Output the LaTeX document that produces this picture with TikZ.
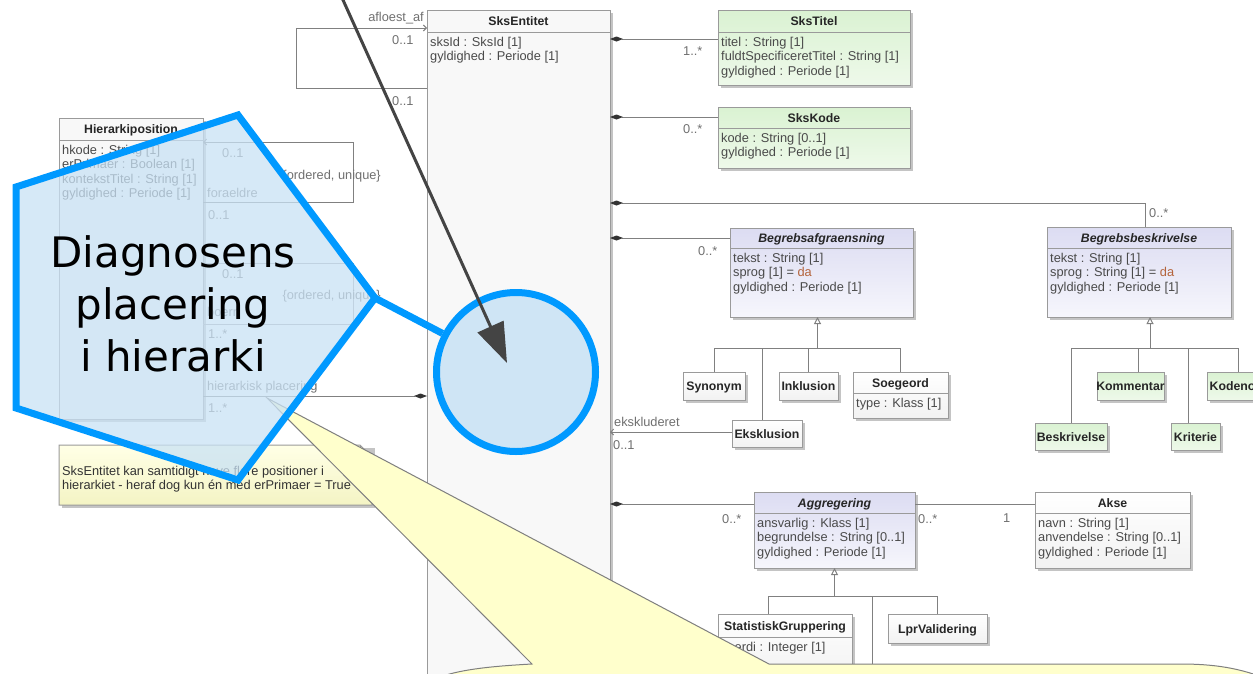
\documentclass[tikz,border=0pt]{standalone}
\usepackage{fontspec}
\setmainfont{Liberation Sans}
\newfontfamily\bigfont{DejaVu Sans}
\usetikzlibrary{arrows.meta,calc}
\definecolor{bluec}{HTML}{0099FF}
\definecolor{pentc}{HTML}{C9E2F5}
\definecolor{circc}{HTML}{CFE5F5}
\definecolor{boxc}{HTML}{9A9A9A}
\definecolor{shadc}{HTML}{C4C4C4}
\definecolor{connc}{HTML}{808080}
\definecolor{attrc}{HTML}{4A4A4A}
\definecolor{multc}{HTML}{707070}
\definecolor{dacol}{HTML}{B4643C}
\definecolor{entc}{HTML}{F8F8F8}
\definecolor{grtop}{HTML}{DAF2D2}
\definecolor{grbot}{HTML}{EEF9EA}
\definecolor{lvtop}{HTML}{DCDCF2}
\definecolor{lvbot}{HTML}{F6F6FC}
\definecolor{whtop}{HTML}{FFFFFF}
\definecolor{whbot}{HTML}{F2F2F2}
\definecolor{ntop}{HTML}{FFFFE6}
\definecolor{nbot}{HTML}{F4F4C4}
\definecolor{bubc}{HTML}{FFFFCC}
\definecolor{bubline}{HTML}{7F7F7F}
\definecolor{darkc}{HTML}{444444}
\newcommand\umlf{\fontsize{12.8pt}{14.5pt}\selectfont}
\newcommand\umltf{\fontsize{12.3pt}{14pt}\selectfont\bfseries}
\tikzset{
  clsbox/.style={draw=boxc, line width=1pt, anchor=north west, inner sep=0pt, outer sep=0pt},
  clstitle/.style={anchor=base, inner sep=0pt, font=\umltf, text=black!85},
  clsattr/.style={anchor=north west, inner sep=0pt, align=left, font=\umlf, text=attrc},
  clsline/.style={draw=boxc, line width=0.8pt},
  shadowc/.style={fill=shadc},
  conn/.style={draw=connc, line width=1pt},
  comp/.style={conn, {Diamond[length=13pt,width=5pt,color=black!80]}-},
  compend/.style={conn, -{Diamond[length=13pt,width=5pt,color=black!80]}},
  barbend/.style={conn, -{Straight Barb[length=3pt,width=6pt]}},
  barbstart/.style={conn, {Straight Barb[length=3pt,width=6pt]}-},
  gen/.style={conn, -{Triangle[length=7pt,width=7pt,fill=white]}},
  mult/.style={font=\umlf, text=multc, inner sep=0pt},
  greenf/.style={top color=grtop, bottom color=grbot},
  lavf/.style={top color=lvtop, bottom color=lvbot},
  whitef/.style={top color=whtop, bottom color=whbot},
  notef/.style={top color=ntop, bottom color=nbot, draw=boxc, line width=1pt},
  bubble/.style={fill=bubc, draw=bubline, line width=1pt, line join=miter},
  pentagon/.style={draw=bluec, line width=7pt, fill=pentc, fill opacity=0.75, line join=miter},
  blueline/.style={draw=bluec, line width=7pt},
  bigtext/.style={font=\bigfont\fontsize{42pt}{52pt}\selectfont, align=center, text=black, inner sep=0pt},
  darrow/.style={draw=darkc, line width=3pt, -{Triangle[length=40pt,width=28pt,color=darkc]}}
}
% #1 name #2 x #3 y #4 w #5 h #6 header height #7 fill style #8 title #9 attributes
\newcommand\umlclass[9]{%
  \fill[shadowc] (#2+3,#3+3) rectangle (#2+#4+3,#3+#5+3);
  \node[clsbox,#7,minimum width=#4pt,minimum height=#5pt] (#1) at (#2,#3) {};
  \ifdim #6pt>0pt
    \node[clstitle] (#1t) at (#2+#4/2,#3+#6/2+4.5) {#8};
    \draw[clsline] (#2,#3+#6) -- (#2+#4,#3+#6);
    \node[clsattr] (#1a) at (#2+3,#3+#6+2) {#9};
  \else
    \node[clstitle] (#1t) at (#2+#4/2,#3+#5/2+4.5) {#8};
  \fi
}
\begin{document}
\begin{tikzpicture}[x=1pt,y=-1pt]
\useasboundingbox (0,0) rectangle (1253,673);
\clip (0,0) rectangle (1253,673);
\fill[white] (0,0) rectangle (1253,673);

% ---------- UML classes ----------
\umlclass{sksent}{427}{10}{183}{700}{22}{fill=entc}{SksEntitet}{\rule{0pt}{12pt}sksId : SksId [1]\\gyldighed : Periode [1]}
\umlclass{hpos}{59}{118}{144}{301}{22}{fill=entc}{Hierarkiposition}{\rule{0pt}{12pt}hkode : String [1]\\erPrimaer : Boolean [1]\\kontekstTitel : String [1]\\gyldighed : Periode [1]}
\umlclass{titel}{718}{10}{192}{75}{22}{greenf}{SksTitel}{\rule{0pt}{12pt}titel : String [1]\\fuldtSpecificeretTitel : String [1]\\gyldighed : Periode [1]}
\umlclass{kode}{718}{107}{192}{61}{21}{greenf}{SksKode}{\rule{0pt}{12pt}kode : String [0..1]\\gyldighed : Periode [1]}
\umlclass{begraf}{730}{228}{183}{89}{20}{lavf}{\itshape Begrebsafgraensning}{\rule{0pt}{12pt}tekst : String [1]\\sprog [1] = \textcolor{dacol}{da}\\gyldighed : Periode [1]}
\umlclass{begbes}{1047}{227}{184}{90}{21}{lavf}{\itshape Begrebsbeskrivelse}{\rule{0pt}{12pt}tekst : String [1]\\sprog : String [1] = \textcolor{dacol}{da}\\gyldighed : Periode [1]}
\umlclass{synonym}{683}{372}{62}{28}{0}{whitef}{Synonym}{}
\umlclass{inklusion}{779}{372}{59}{28}{0}{whitef}{Inklusion}{}
\umlclass{soegeord}{853}{372}{95}{46}{21}{whitef}{Soegeord}{\rule{0pt}{12pt}type : Klass [1]}
\umlclass{eksklusion}{732}{420}{70}{27}{0}{whitef}{Eksklusion}{}
\umlclass{kommentar}{1097}{372}{67}{28}{0}{greenf}{Kommentar}{}
\umlclass{kodenote}{1207}{372}{62}{28}{0}{greenf}{Kodenote}{}
\umlclass{beskrivelse}{1035}{423}{72}{27}{0}{greenf}{Beskrivelse}{}
\umlclass{kriterie}{1171}{423}{49}{27}{0}{greenf}{Kriterie}{}
\umlclass{aggr}{754}{492}{161}{76}{21}{lavf}{\itshape Aggregering}{\rule{0pt}{12pt}ansvarlig : Klass [1]\\begrundelse : String [0..1]\\gyldighed : Periode [1]}
\umlclass{akse}{1035}{492}{155}{76}{21}{whitef}{Akse}{\rule{0pt}{12pt}navn : String [1]\\anvendelse : String [0..1]\\gyldighed : Periode [1]}
\umlclass{statgr}{718}{614}{134}{62}{23}{whitef}{StatistiskGruppering}{\rule{0pt}{12pt}vaerdi : Integer [1]}
\umlclass{lprval}{888}{614}{99}{29}{0}{whitef}{LprValidering}{}

% ---------- note ----------
\fill[shadowc] (62,448) rectangle (375,508);
\path[notef] (59,445) -- (360,445) -- (372,457) -- (372,505) -- (59,505) -- cycle;
\draw[boxc, line width=0.8pt] (360,445) -- (360,457) -- (372,457);
\node[clsattr, text=black!80] (notetext) at (62,463) {\rule{0pt}{12pt}SksEntitet kan samtidigt have flere positioner i\\hierarkiet - heraf dog kun én med erPrimaer = True};

% ---------- connectors ----------
% self association on SksEntitet
\coordinate (sa1) at ([yshift=-78pt]sksent.north west);
\coordinate (sa2) at ([yshift=-18pt]sksent.north west);
\draw[barbend] (sa1) -- ++(-131,0) -- ++(0,-60) -- (sa2);
\node[mult, anchor=base east] (m1) at (424,21.5) {afloest\_af};
\node[mult, anchor=base west] (m2) at (392,44) {0..1};
\node[mult, anchor=base west] (m3) at (392,105) {0..1};

% Hierarkiposition loops
\coordinate (h1) at ([yshift=-24pt]hpos.north east);
\coordinate (h2) at ([yshift=-84pt]hpos.north east);
\draw[barbstart] (h1) -- ++(150,0) -- ++(0,60) -- (h2);
\coordinate (h3) at ([yshift=-145pt]hpos.north east);
\coordinate (h4) at ([yshift=-206pt]hpos.north east);
\draw[conn, draw=connc!70] (h3) -- ++(150,0) -- ++(0,61) -- (h4);
\node[mult, anchor=base west] (m4) at (222,157) {0..1};
\node[mult, anchor=base east] (m5) at (381,179) {\{ordered, unique\}};
\node[mult, anchor=base west] (m6) at (207,197) {foraeldre};
\node[mult, anchor=base west] (m7) at (208,219) {0..1};
\node[mult, anchor=base west] (m8) at (222,278) {0..1};
\node[mult, anchor=base east] (m9) at (381,299) {\{ordered, unique\}};
\node[mult, anchor=base west] (m10) at (207,316) {boern};
\node[mult, anchor=base west] (m11) at (208,338) {1..*};

% hierarkisk placering
\coordinate (hp) at ([yshift=-278pt]hpos.north east);
\draw[compend] (hp) -- (hp -| sksent.west);
\node[mult, anchor=base west] (m12) at (207,390) {hierarkisk placering};
\node[mult, anchor=base west] (m13) at (208,412) {1..*};

% right side of SksEntitet
\coordinate (t1) at ([yshift=-29pt]titel.north west);
\draw[comp] (t1 -| sksent.east) -- (t1);
\node[mult, anchor=base west] (m14) at (683,55) {1..*};
\coordinate (k1) at ([yshift=-10pt]kode.north west);
\draw[comp] (k1 -| sksent.east) -- (k1);
\node[mult, anchor=base west] (m15) at (683,133) {0..*};
\coordinate (bbturn) at ([xshift=6pt,yshift=24pt]begbes.north);
\draw[comp] (bbturn -| sksent.east) -- (bbturn) -- (bbturn |- begbes.north);
\node[mult, anchor=base west] (m16) at (1149,217) {0..*};
\coordinate (ba1) at ([yshift=-10pt]begraf.north west);
\draw[comp] (ba1 -| sksent.east) -- (ba1);
\node[mult, anchor=base west] (m17) at (698,255) {0..*};
\coordinate (ek1) at ([yshift=1.5pt]eksklusion.west);
\draw[barbstart] (ek1 -| sksent.east) -- (ek1);
\node[mult, anchor=base west] (m18) at (614,426) {ekskluderet};
\node[mult, anchor=base west] (m19) at (613,449) {0..1};
\coordinate (ag1) at ([yshift=-12pt]aggr.north west);
\draw[comp] (ag1 -| sksent.east) -- (ag1);
\node[mult, anchor=base west] (m20) at (722,523) {0..*};
\coordinate (ag2) at ([yshift=-12pt]aggr.north east);
\draw[conn] (ag2) -- (ag2 -| akse.west);
\node[mult, anchor=base west] (m21) at (918,523) {0..*};
\node[mult, anchor=base west] (m22) at (1003,522) {1};

% generalisations
\coordinate (bas) at ([xshift=-4pt]begraf.south);
\coordinate (g1) at ([yshift=-31pt]bas);
\draw[gen] (g1) -- (bas);
\draw[conn] (synonym.north) |- (soegeord.north |- g1) -- (soegeord.north);
\draw[conn] (inklusion.north) -- (inklusion.north |- g1);
\coordinate (ekx) at ([xshift=-5pt]eksklusion.north);
\draw[conn] (ekx) -- (ekx |- g1);

\coordinate (bsa) at ([xshift=11pt]begbes.south);
\coordinate (g2) at ([yshift=-31pt]bsa);
\draw[gen] (g2) -- (bsa);
\draw[conn] (beskrivelse.north) |- (kodenote.north |- g2) -- (kodenote.north);
\coordinate (kmx) at ([xshift=8pt]kommentar.north);
\draw[conn] (kmx) -- (kmx |- g2);
\coordinate (krx) at ([xshift=-7pt]kriterie.north);
\draw[conn] (krx) -- (krx |- g2);

\coordinate (g3) at ([yshift=-28pt]aggr.south);
\draw[gen] (g3) -- (aggr.south);
\coordinate (sgx) at ([xshift=-17pt]statgr.north);
\draw[conn] (sgx) |- (lprval.north |- g3) -- (lprval.north);
\coordinate (offc) at (872,690);
\draw[conn] (offc) -- (offc |- g3);

% ---------- overlays ----------
\path[bubble] (267,398) -- (532,664) .. controls (495,666) and (462,669) .. (440,677) -- (440,700) -- (1270,700) -- (1270,680) .. controls (1240,668) and (1215,664) .. (1180,664) -- (769,664) -- cycle;

\path[pentagon] (16,187) -- (238,115) -- (375,298) -- (238,480) -- (16,408) -- cycle;
\node[circle, draw=bluec, line width=7pt, fill=circc, minimum size=159pt, inner sep=0pt] (circ) at (516,372) {};
\coordinate (pv) at (375,298);
\draw[blueline] (pv) -- (circ);
\node[bigtext] (ptext) at (173,304) {Diagnosens\\placering\\i hierarki};

\coordinate (arrstart) at (338.5,-10);
\coordinate (arrtip) at (507,363);
\draw[darrow] (arrstart) -- (arrtip);
\end{tikzpicture}
\end{document}
